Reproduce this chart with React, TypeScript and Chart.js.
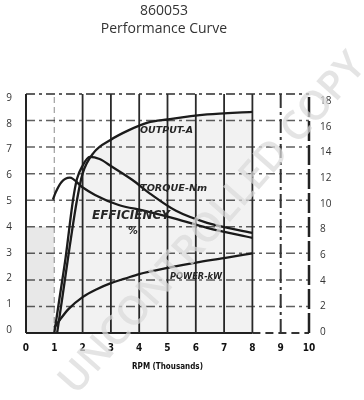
import React, { useEffect, useRef } from 'react';
import { Chart, registerables } from 'chart.js';

Chart.register(...registerables);

// ---- text ----
const titleLines = ['860053', 'Performance Curve'];
const xAxisTitle = 'RPM (Thousands)';
const watermarkText = 'UNCONTROLLED COPY';
const xTickLabels = ['0', '1', '2', '3', '4', '5', '6', '7', '8', '9', '10'];
const leftTickLabels = ['0', '1', '2', '3', '4', '5', '6', '7', '8', '9'];
const rightTickLabels = ['0', '2', '4', '6', '8', '10', '12', '14', '16', '18'];

// ---- curves (x = RPM in thousands, y = chart units 0..9) ----
const outputRpm = [1.1, 1.3, 1.55, 1.8, 2.0, 2.4, 3.0, 3.6, 4.3, 5.0, 6.4, 8.0];
const outputVal = [0, 1.45, 3.3, 5.0, 6.0, 6.8, 7.28, 7.62, 7.92, 8.04, 8.23, 8.33];

const torqueRpm = [1.0, 1.2, 1.4, 1.66, 1.8, 2.0, 2.25, 2.6, 3.04, 3.75, 4.38, 5.3, 6.4, 8.0];
const torqueVal = [0, 1.42, 2.84, 5.0, 5.8, 6.3, 6.63, 6.55, 6.26, 5.77, 5.25, 4.6, 4.15, 3.77];

const effRpm = [0.95, 1.05, 1.25, 1.55, 1.98, 2.44, 3.25, 4.2, 5.3, 6.4, 8.0];
const effVal = [5.02, 5.3, 5.68, 5.85, 5.5, 5.2, 4.83, 4.6, 4.3, 3.96, 3.58];

const powerRpm = [1.0, 1.2, 1.5, 2.0, 2.5, 3.0, 3.5, 4.0, 5.0, 6.0, 7.0, 8.0];
const powerVal = [0.2, 0.5, 0.9, 1.35, 1.65, 1.88, 2.05, 2.22, 2.45, 2.65, 2.82, 3.0];

const shadeRpm = [0, 1];
const shadeVal = [4, 4];

// ---- handwritten curve labels (text, data anchors) ----
const noteTexts = ['OUTPUT-A', 'TORQUE-Nm', 'EFFICIENCY', '%', 'POWER-kW'];
const noteStartRpm = [4.03, 4.03, 2.33, 3.6, 5.09];
const noteEndRpm = [5.9, 6.4, 5.09, 3.95, 6.93];
const noteVal = [7.62, 5.43, 4.42, 3.82, 2.11];

const gridXValues = [0, 1, 2, 3, 4, 5, 6, 7, 8, 9, 10];
const gridYValues = [0, 1, 2, 3, 4, 5, 6, 7, 8, 9];

const pts = (xs: number[], ys: number[]) => xs.map((x, i) => ({ x, y: ys[i] }));

const gridPlugin = {
  id: 'scanGrid',
  beforeDatasetsDraw(chart: any) {
    const { ctx } = chart;
    const xs = chart.scales.x;
    const g = chart.scales.g;
    const px = (v: number) => xs.getPixelForValue(v);
    const py = (v: number) => g.getPixelForValue(v);
    ctx.save();
    const line = (x1: number, y1: number, x2: number, y2: number, color: string, w: number, dash: number[]) => {
      ctx.beginPath();
      ctx.strokeStyle = color;
      ctx.lineWidth = w;
      ctx.setLineDash(dash);
      ctx.moveTo(x1, y1);
      ctx.lineTo(x2, y2);
      ctx.stroke();
    };
    gridYValues.forEach((v) => {
      if (v === 0) {
        line(px(0), py(0), px(8), py(0), '#222', 2, []);
        line(px(8), py(0), px(10), py(0), '#333', 2, [8, 5]);
      } else {
        line(px(0), py(v), px(10), py(v), 'rgba(35,35,35,0.72)', v === 9 ? 1.8 : 1.5, [9, 4, 3, 4]);
      }
    });
    gridXValues.forEach((v) => {
      if (v === 0) line(px(v), py(0), px(v), py(9), '#222', 2, []);
      else if (v === 1) line(px(v), py(0), px(v), py(9), 'rgba(40,40,40,0.45)', 1.2, [6, 4]);
      else if (v <= 8) line(px(v), py(0), px(v), py(9), '#2a2a2a', 1.8, []);
      else if (v === 9) line(px(v), py(0), px(v), py(9), '#333', 2, [14, 4, 3, 4]);
      else line(px(v), py(0), px(v), py(9), '#222', 2.5, [20, 4]);
    });
    ctx.restore();
  },
  afterDatasetsDraw(chart: any) {
    const { ctx } = chart;
    const xs = chart.scales.x;
    const g = chart.scales.g;
    ctx.save();
    ctx.fillStyle = '#262626';
    ctx.textBaseline = 'middle';
    ctx.textAlign = 'left';
    noteTexts.forEach((t, i) => {
      const x1 = xs.getPixelForValue(noteStartRpm[i]);
      const x2 = xs.getPixelForValue(noteEndRpm[i]);
      const y = g.getPixelForValue(noteVal[i]);
      const size = t === 'EFFICIENCY' ? 12 : t === '%' ? 10 : 8;
      ctx.font = `italic bold ${size}px "DejaVu Sans Condensed"`;
      const w = ctx.measureText(t).width;
      ctx.save();
      ctx.translate(x1, y);
      ctx.scale((x2 - x1) / w, 1);
      ctx.fillText(t, 0, 0);
      ctx.restore();
    });
    ctx.restore();
  },
  afterDraw(chart: any) {
    const { ctx } = chart;
    ctx.save();
    ctx.fillStyle = '#333';
    ctx.font = '14px "Open Sans"';
    ctx.textAlign = 'center';
    ctx.textBaseline = 'middle';
    ctx.fillText(titleLines[0], 164, 11);
    ctx.fillText(titleLines[1], 164, 29);
    ctx.translate(213, 224);
    ctx.rotate((-48.5 * Math.PI) / 180);
    ctx.font = '600 100px "Open Sans"';
    const w = ctx.measureText(watermarkText).width;
    const size = (100 * 440) / w;
    ctx.font = `600 ${size}px "Open Sans"`;
    ctx.fillStyle = 'rgba(218,218,218,0.72)';
    ctx.fillText(watermarkText, 0, 0);
    ctx.restore();
  },
};

export default function App() {
  const ref = useRef<HTMLCanvasElement>(null);
  useEffect(() => {
    if (!ref.current) return;
    const curve = (data: any[]) => ({
      data,
      yAxisID: 'g',
      borderColor: '#1c1c1c',
      borderWidth: 2.3,
      pointRadius: 0,
      cubicInterpolationMode: 'monotone' as const,
      fill: false,
    });
    const chart = new Chart(ref.current, {
      type: 'line',
      data: {
        datasets: [
          {
            data: pts(shadeRpm, shadeVal),
            yAxisID: 'g',
            borderWidth: 0,
            pointRadius: 0,
            fill: 'origin',
            backgroundColor: 'rgba(0,0,0,0.09)',
          },
          { ...curve(pts(outputRpm, outputVal)), fill: 'origin', backgroundColor: 'rgba(0,0,0,0.05)' },
          curve(pts(torqueRpm, torqueVal)),
          curve(pts(effRpm, effVal)),
          curve(pts(powerRpm, powerVal)),
        ],
      },
      options: {
        responsive: false,
        animation: false,
        devicePixelRatio: 1,
        layout: { padding: { top: 94, left: 0, right: 0, bottom: 0 } },
        plugins: { legend: { display: false }, tooltip: { enabled: false }, title: { display: false } },
        scales: {
          x: {
            type: 'linear',
            min: 0,
            max: 10,
            afterFit: (s: any) => {
              s.height = 67;
            },
            grid: { display: false, drawTicks: false },
            border: { display: false },
            ticks: {
              stepSize: 1,
              padding: 9,
              autoSkip: false,
              maxRotation: 0,
              color: '#111',
              font: { family: 'DejaVu Sans Condensed', weight: 'bold', size: 10 },
              callback: (v: any) => xTickLabels[v] ?? '',
            },
            title: {
              display: true,
              text: xAxisTitle,
              color: '#111',
              font: { family: 'DejaVu Sans Condensed', weight: 'bold', size: 8 },
              padding: { top: 0, bottom: 28 },
            },
          },
          y: {
            position: 'left',
            min: -0.116,
            max: 9.155,
            afterBuildTicks: (s: any) => {
              s.ticks = leftTickLabels.map((_, i) => ({ value: i }));
            },
            afterFit: (s: any) => {
              s.width = 26;
            },
            grid: { display: false, drawTicks: false },
            border: { display: false },
            ticks: {
              padding: 14,
              color: '#333',
              font: { family: 'Open Sans', size: 10 },
              callback: (_v: any, i: number) => leftTickLabels[i],
            },
          },
          y2: {
            position: 'right',
            min: -0.08,
            max: 18.55,
            afterBuildTicks: (s: any) => {
              s.ticks = rightTickLabels.map((_, i) => ({ value: i * 2 }));
            },
            afterFit: (s: any) => {
              s.width = 55;
            },
            grid: { display: false, drawTicks: false },
            border: { display: false },
            ticks: {
              padding: 11,
              color: '#333',
              font: { family: 'Open Sans', size: 10 },
              callback: (_v: any, i: number) => rightTickLabels[i],
            },
          },
          g: { display: false, min: 0, max: 9 },
        },
      },
      plugins: [gridPlugin],
    });
    return () => chart.destroy();
  }, []);
  return (
    <div style={{ position: 'absolute', left: 0, top: 0, width: 364, height: 400 }}>
      <canvas ref={ref} width={364} height={400} style={{ display: 'block' }} />
    </div>
  );
}
